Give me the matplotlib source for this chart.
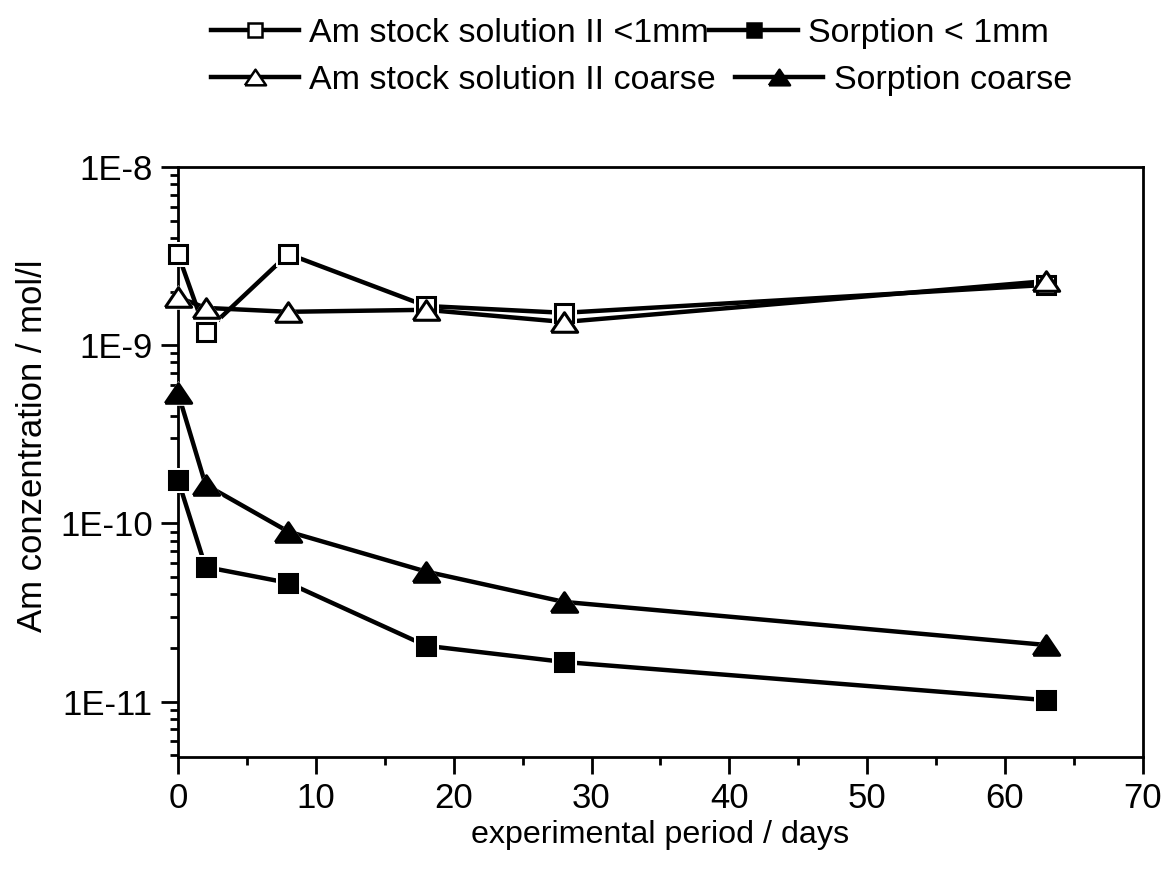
import numpy as np
import matplotlib
matplotlib.use("Agg")
import matplotlib.pyplot as plt
from matplotlib.ticker import FuncFormatter, LogLocator, MultipleLocator

plt.rcParams['font.family'] = ['Liberation Sans', 'DejaVu Sans']

# Data
days = [0, 2, 8, 18, 28, 63]
stock_fine = [3.25e-9, 1.19e-9, 3.25e-9, 1.66e-9, 1.52e-9, 2.18e-9]
stock_coarse = [1.86e-9, 1.62e-9, 1.54e-9, 1.58e-9, 1.35e-9, 2.29e-9]
sorption_fine = [1.76e-10, 5.7e-11, 4.64e-11, 2.06e-11, 1.67e-11, 1.02e-11]
sorption_coarse = [5.4e-10, 1.65e-10, 9.0e-11, 5.37e-11, 3.63e-11, 2.08e-11]

labels = ["Am stock solution II <1mm", "Sorption < 1mm",
          "Am stock solution II coarse", "Sorption coarse"]

# flat triangle like the original software
tri = [(-1.0, -0.74), (1.0, -0.74), (0.0, 0.74), (-1.0, -0.74)]

series = [
    (stock_fine, 's', 'white', 13),
    (sorption_fine, 's', 'black', 13),
    (stock_coarse, tri, 'white', 19),
    (sorption_coarse, tri, 'black', 19),
]

fig = plt.figure(figsize=(11.71, 8.72), dpi=100)
ax = fig.add_axes([0.152, 0.132, 0.824, 0.6765])

handles = []
for vals, mk, face, ms in series:
    ax.plot(days, vals, color='black', lw=3.2, zorder=2)
    # white halo so the line stops short of the symbol
    ax.plot(days, vals, ls='none', marker=mk, ms=ms + 5, mfc='white',
            mec='white', mew=0, zorder=3, clip_on=False)
    ax.plot(days, vals, ls='none', marker=mk, ms=ms, mfc=face,
            mec='black', mew=2.2, zorder=4, clip_on=False)
    h, = ax.plot([], [], color='black', lw=3.2, marker=mk, ms=ms,
                 mfc=face, mec='black', mew=1.8)
    handles.append(h)

ax.set_yscale('log')
ax.set_xlim(0, 70)
ax.set_ylim(4.9e-12, 1e-8)

ax.xaxis.set_major_locator(MultipleLocator(10))
ax.xaxis.set_minor_locator(MultipleLocator(5))
ax.yaxis.set_major_locator(LogLocator(base=10, numticks=10))
ax.yaxis.set_minor_locator(LogLocator(base=10, subs=np.arange(2, 10), numticks=10))
ax.yaxis.set_major_formatter(FuncFormatter(lambda v, p: "1E%d" % round(np.log10(v))))

ax.tick_params(which='both', direction='out', top=False, right=False,
               width=2, labelsize=25, pad=6)
ax.tick_params(which='major', length=12)
ax.tick_params(which='minor', length=6)
for sp in ax.spines.values():
    sp.set_linewidth(2)

ax.set_xlabel("experimental period / days", fontsize=23.2, labelpad=4)
ax.set_ylabel("Am conzentration / mol/l", fontsize=25, labelpad=8, y=0.527)

leg_kw = dict(frameon=False, fontsize=24.5, ncol=2, handlelength=2.6,
              handletextpad=0.3, borderpad=0, borderaxespad=0,
              markerscale=0.8, loc='upper left')
leg1 = fig.legend(handles[:2], labels[:2], columnspacing=0.0,
                  bbox_to_anchor=(0.18, 0.979), **leg_kw)
leg2 = fig.legend(handles[2:], labels[2:], columnspacing=0.55,
                  bbox_to_anchor=(0.18, 0.925), **leg_kw)

fig.savefig("out.png", dpi=100)
